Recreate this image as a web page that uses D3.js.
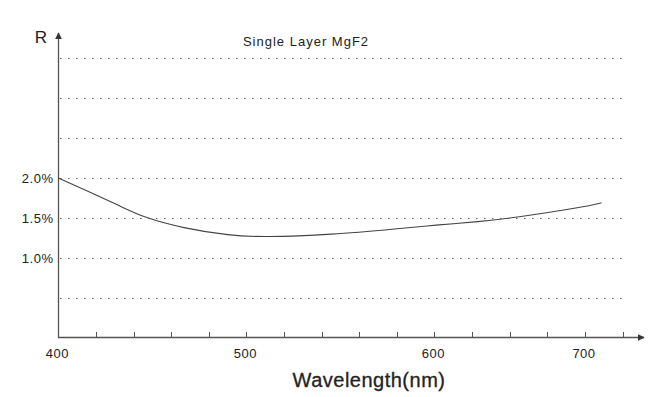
<!DOCTYPE html>
<html>
<head>
<meta charset="utf-8">
<script src="https://cdn.jsdelivr.net/npm/d3@7"></script>
<style>
  body { margin: 0; background: #fff; }
  text { font-family: "Liberation Sans", Arial, sans-serif; fill: #222; }
</style>
</head>
<body>
<div id="chart"></div>
<script>
// 曲线数据 (波长 nm, 反射率 %)
const wavelengths = [400, 416, 432, 446, 467, 491, 509, 545, 582, 600, 630, 652, 700, 711];
const reflectance = [2.00, 1.83, 1.66, 1.50, 1.37, 1.28, 1.26, 1.29, 1.37, 1.41, 1.455, 1.50, 1.64, 1.69];

// 坐标轴刻度
const xLabels = [400, 500, 600, 700];
const xMinorTicks = [420, 440, 460, 480, 520, 540, 560, 580, 625, 650, 675, 725];
const yGrid = [0.5, 1.0, 1.5, 2.0, 2.5, 3.0, 3.5];
const yLabels = [1.0, 1.5, 2.0];

const width = 664, height = 397;

const svg = d3.select("#chart")
    .append("svg")
    .attr("width", width)
    .attr("height", height);

// 原图中 700 的位置不等距, 用分段线性比例尺
const x = d3.scaleLinear()
    .domain([400, 600, 700, 725])
    .range([58.3, 434.3, 585, 622.7]);

const y = d3.scaleLinear()
    .domain([0, 3.5])
    .range([338, 58]);

// 网格线 (点线)
svg.append("g")
    .selectAll("line")
    .data(yGrid)
    .enter().append("line")
    .attr("x1", 60)
    .attr("x2", 626)
    .attr("y1", d => Math.round(y(d)) + 0.5)
    .attr("y2", d => Math.round(y(d)) + 0.5)
    .attr("stroke", "#666")
    .attr("stroke-width", 1)
    .attr("stroke-dasharray", "1.5,6.5");

// 箭头
const defs = svg.append("defs");
defs.append("marker")
    .attr("id", "arrow")
    .attr("viewBox", "0 0 10 10")
    .attr("refX", 9)
    .attr("refY", 5)
    .attr("markerWidth", 7)
    .attr("markerHeight", 7)
    .attr("markerUnits", "userSpaceOnUse")
    .attr("orient", "auto")
    .append("path")
    .attr("d", "M0,0L10,5L0,10Z")
    .attr("fill", "#333");

// Y轴
svg.append("line")
    .attr("x1", 58.5).attr("x2", 58.5)
    .attr("y1", 338).attr("y2", 33)
    .attr("stroke", "#555")
    .attr("stroke-width", 1.3)
    .attr("marker-end", "url(#arrow)");

// X轴
svg.append("line")
    .attr("x1", 58).attr("x2", 644)
    .attr("y1", 337.5).attr("y2", 337.5)
    .attr("stroke", "#555")
    .attr("stroke-width", 1.3)
    .attr("marker-end", "url(#arrow)");

// X轴刻度
svg.append("g")
    .selectAll("line")
    .data(xLabels.concat(xMinorTicks).filter(d => d !== 400))
    .enter().append("line")
    .attr("x1", d => Math.round(x(d)) + 0.5)
    .attr("x2", d => Math.round(x(d)) + 0.5)
    .attr("y1", 332)
    .attr("y2", 338)
    .attr("stroke", "#555");

// X轴标签
svg.append("g")
    .selectAll("text")
    .data(xLabels)
    .enter().append("text")
    .attr("x", d => x(d) - 1)
    .attr("y", 357.5)
    .attr("text-anchor", "middle")
    .style("font-size", "13px")
    .style("letter-spacing", "0.5px")
    .text(d => d);

// Y轴标签
svg.append("g")
    .selectAll("text")
    .data(yLabels)
    .enter().append("text")
    .attr("x", 53.5)
    .attr("y", d => y(d) + 4.5)
    .attr("text-anchor", "end")
    .style("font-size", "13px")
    .style("letter-spacing", "0.5px")
    .text(d => d.toFixed(1) + "%");

// 曲线
const pts = wavelengths.map((w, i) => [w, reflectance[i]]);
svg.append("path")
    .datum(pts)
    .attr("fill", "none")
    .attr("stroke", "#444")
    .attr("stroke-width", 1.1)
    .attr("d", d3.line()
        .x(d => x(d[0]))
        .y(d => y(d[1]))
        .curve(d3.curveBasis));

// 标题
svg.append("text")
    .attr("x", 306)
    .attr("y", 46)
    .attr("text-anchor", "middle")
    .style("font-size", "13px")
    .style("letter-spacing", "1px")
    .text("Single Layer MgF2");

// R
svg.append("text")
    .attr("x", 41)
    .attr("y", 43)
    .attr("text-anchor", "middle")
    .style("font-size", "17px")
    .text("R");

// X轴标题
svg.append("text")
    .attr("x", 369)
    .attr("y", 387)
    .attr("text-anchor", "middle")
    .style("font-size", "20px")
    .style("letter-spacing", "0.5px")
    .style("stroke", "#222")
    .style("stroke-width", "0.3px")
    .text("Wavelength(nm)");
</script>
</body>
</html>
